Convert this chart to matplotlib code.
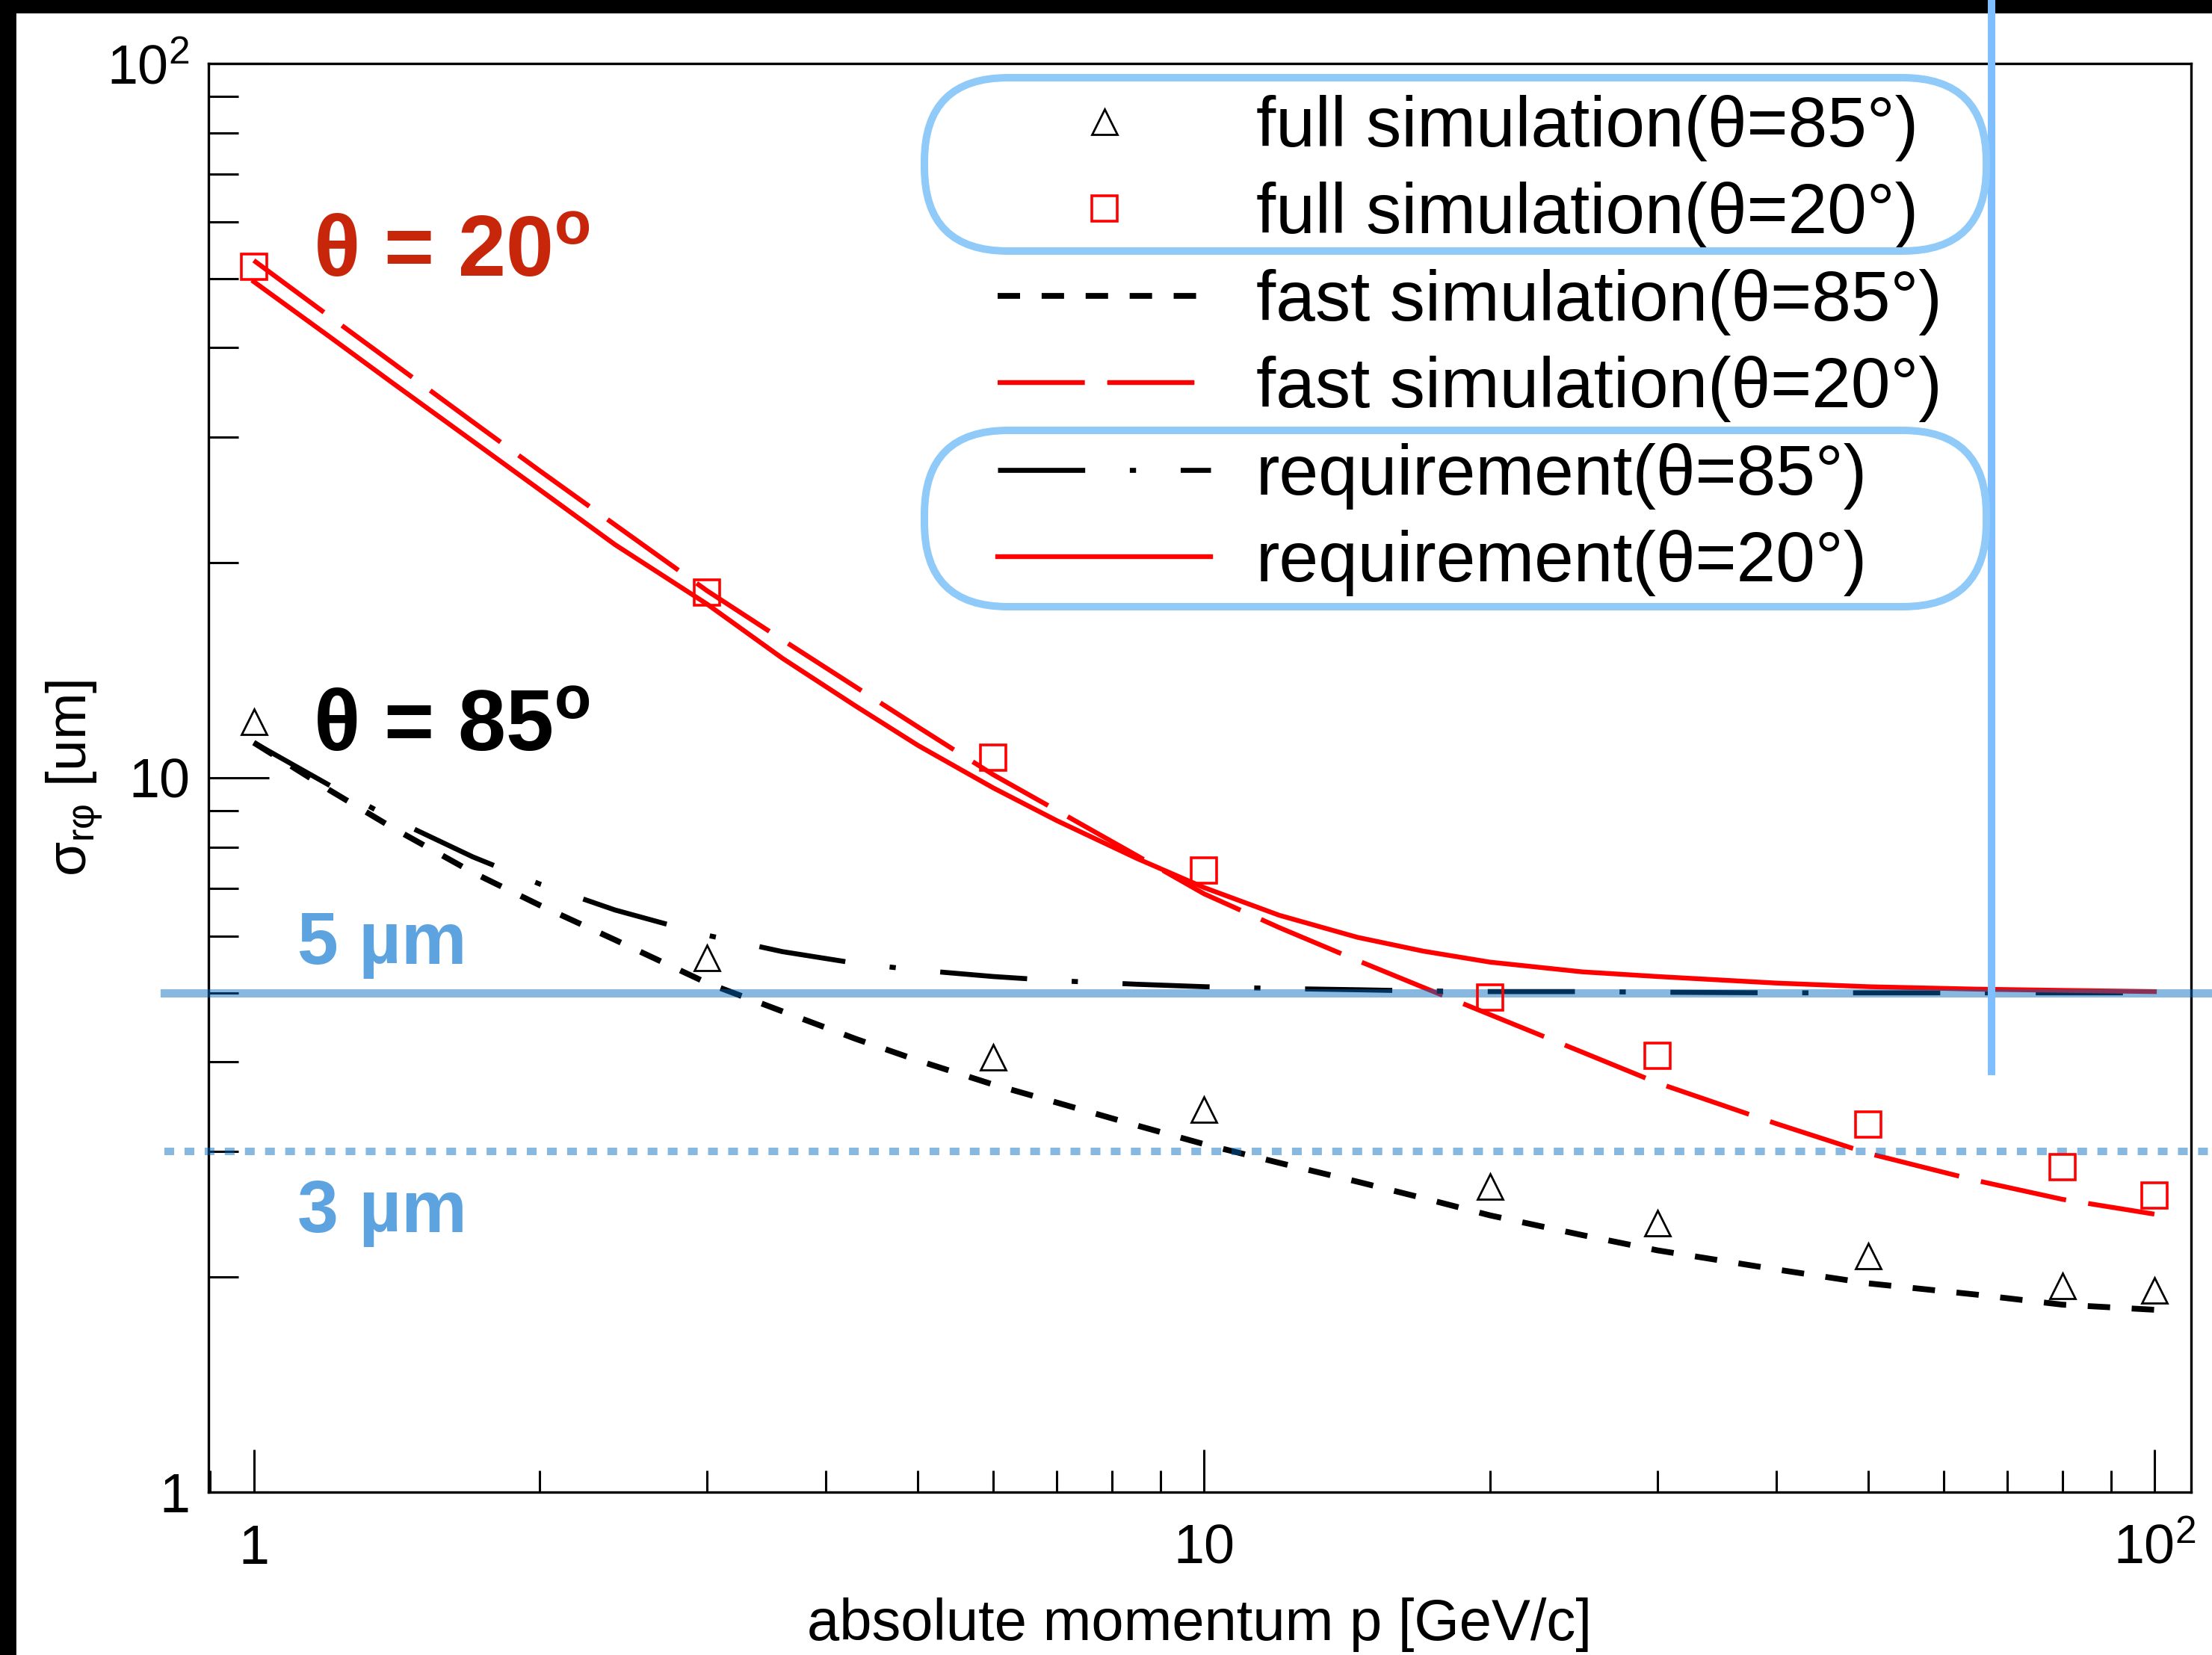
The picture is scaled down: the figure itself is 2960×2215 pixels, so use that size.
import matplotlib.pyplot as plt
from matplotlib.patches import FancyBboxPatch, Rectangle
from matplotlib.ticker import NullFormatter

plt.rcParams['font.family'] = ['Liberation Sans', 'DejaVu Sans']
plt.rcParams['mathtext.fontset'] = 'custom'
plt.rcParams['mathtext.rm'] = 'Liberation Sans'
plt.rcParams['mathtext.it'] = 'Liberation Sans'
plt.rcParams['mathtext.bf'] = 'Liberation Sans:bold'
plt.rcParams['lines.scale_dashes'] = False

# full simulation points, momentum in GeV/c, resolution in um
p_full = [1, 3, 6, 10, 20, 30, 50, 80, 100]
full_85 = [11.99, 5.59, 4.06, 3.43, 2.68, 2.38, 2.14, 1.945, 1.915]
full_20 = [52.0, 18.17, 10.66, 7.41, 4.93, 4.08, 3.27, 2.85, 2.60]

# fast simulation and requirement curves
p_curve = [1, 1.2, 1.4, 1.7, 2, 2.4, 3, 3.6, 4.3, 5, 6, 7, 8.5, 10, 12, 14.5, 17,
           20, 25, 30, 40, 50, 65, 80, 100]
fast_85 = [11.2, 9.62, 8.51, 7.37, 6.63, 5.93, 5.16, 4.71, 4.31, 4.02, 3.72, 3.51,
           3.26, 3.07, 2.89, 2.72, 2.58, 2.44, 2.29, 2.18, 2.05, 1.96, 1.89, 1.83, 1.80]
fast_20 = [53.0, 44.3, 38.1, 31.5, 26.9, 22.6, 18.27, 15.6, 13.4, 11.78, 10.1, 9.0,
           7.78, 6.88, 6.17, 5.55, 5.09, 4.66, 4.13, 3.74, 3.28, 2.98, 2.73, 2.57, 2.45]
req_85 = [11.2, 9.77, 8.76, 7.75, 7.10, 6.53, 6.02, 5.71, 5.50, 5.38, 5.27, 5.20,
          5.14, 5.10, 5.07, 5.05, 5.03, 5.02, 5.02, 5.01, 5.0, 5.0, 5.0, 5.0, 5.0]
req_20 = [49.5, 41.5, 35.7, 29.6, 25.3, 21.2, 17.5, 14.7, 12.6, 11.1, 9.68, 8.71,
          7.71, 7.02, 6.42, 5.98, 5.72, 5.52, 5.35, 5.27, 5.16, 5.10, 5.06, 5.04, 5.02]

goal_solid = 5.0   # um
goal_dotted = 3.0  # um
p_cut = 67.4       # GeV/c
p_cut_low = 3.88

labels = ['full simulation(θ=85°)', 'full simulation(θ=20°)',
          'fast simulation(θ=85°)', 'fast simulation(θ=20°)',
          'requirement(θ=85°)', 'requirement(θ=20°)']

W, H = 2960, 2215
fig = plt.figure(figsize=(W / 200, H / 200), dpi=200)
ax = fig.add_axes([279 / W, 1 - 1997 / H, (2932 - 279) / W, (1997 - 85) / H])

# black frame strips along the top and left edge
fig.add_artist(Rectangle((0, 1 - 16 / H), 1, 16 / H, transform=fig.transFigure,
                         color='black', zorder=-1))
fig.add_artist(Rectangle((0, 0), 20 / W, 1, transform=fig.transFigure,
                         color='black', zorder=-1))

ax.set_xscale('log')
ax.set_yscale('log')
ax.set_xlim(0.896, 109.3)
ax.set_ylim(1, 100)

l_fast85, = ax.plot(p_curve, fast_85, color='black', lw=2.8, dashes=(10.8, 10.4), zorder=2)
l_fast20, = ax.plot(p_curve, fast_20, color='red', lw=2.3, dashes=(42, 10.8), zorder=2)
l_req85, = ax.plot(p_curve, req_85, color='black', lw=2.4, dashes=(42, 21.5, 3, 21.5), zorder=2)
l_req20, = ax.plot(p_curve, req_20, color='red', lw=2.3, zorder=2)
m_full85, = ax.plot(p_full, full_85, ls='none', marker='^', ms=12.5, mfc='none',
                    mec='black', mew=1.0, zorder=5)
m_full20, = ax.plot(p_full, full_20, ls='none', marker='s', ms=12, mfc='none',
                    mec='red', mew=1.3, zorder=5)

# target resolution lines
ax.plot([0.805, 130], [goal_solid, goal_solid], color='#006abf', alpha=0.47, lw=4,
        clip_on=False, zorder=4)
ax.plot([0.805, 130], [goal_dotted, goal_dotted], color='#006abf', alpha=0.47, lw=3.6,
        dashes=(4.7, 5), clip_on=False, zorder=4)
ax.plot([p_cut, p_cut], [p_cut_low, 200], color='#7fbfff', lw=3.6, clip_on=False, zorder=6)

for s in ax.spines.values():
    s.set_linewidth(1.2)
ax.tick_params(which='both', direction='in', top=False, right=False, width=1.1)
ax.tick_params(axis='x', which='major', length=20.5, pad=15, labelsize=26.5)
ax.tick_params(axis='x', which='minor', length=10.4)
ax.tick_params(axis='y', which='major', length=29, pad=9, labelsize=26.5)
ax.tick_params(axis='y', which='minor', length=14.4)
ax.set_xticks([1, 10, 100], ['1', '10', '$10^{2}$'])
ax.set_yticks([1, 10, 100], ['1', '10', '$10^{2}$'])
ax.xaxis.set_minor_formatter(NullFormatter())
ax.yaxis.set_minor_formatter(NullFormatter())

ax.set_xlabel('absolute momentum p [GeV/c]', fontsize=28)
ax.xaxis.set_label_coords(0.5, -0.074)
ax.set_ylabel('$σ_{rφ}$ [um]', fontsize=27)
ax.yaxis.set_label_coords(-0.052, 0.5)

ax.legend([m_full85, m_full20, l_fast85, l_fast20, l_req85, l_req20], labels,
          loc='upper left', bbox_to_anchor=(0.398, 0.978), frameon=False, fontsize=34,
          handlelength=3.02, handletextpad=0.64, labelspacing=0.29, borderpad=0,
          borderaxespad=0, numpoints=1)

# rounded outlines around legend groups
for y0, h in [(9.395, 1.16), (7.015, 1.18)]:
    fig.add_artist(FancyBboxPatch((6.185, y0), 7.105, h,
                                  boxstyle='round,pad=0,rounding_size=0.56',
                                  transform=fig.dpi_scale_trans, fill=False,
                                  ec='#90caf9', lw=3.6))

ax.text(0.0528, 0.851, 'θ = 20$^{\\mathbf{o}}$', transform=ax.transAxes, fontsize=41.5,
        fontweight='bold', color='#c8260a', ha='left', va='baseline')
ax.text(0.0528, 0.5188, 'θ = 85$^{\\mathbf{o}}$', transform=ax.transAxes, fontsize=41.5,
        fontweight='bold', color='black', ha='left', va='baseline')
ax.text(0.0449, 0.3698, '5 µm', transform=ax.transAxes, fontsize=35.5,
        fontweight='bold', color='#5da3df', ha='left', va='baseline')
ax.text(0.0449, 0.182, '3 µm', transform=ax.transAxes, fontsize=35.5,
        fontweight='bold', color='#5da3df', ha='left', va='baseline')

fig.savefig('out.png', dpi=200)
